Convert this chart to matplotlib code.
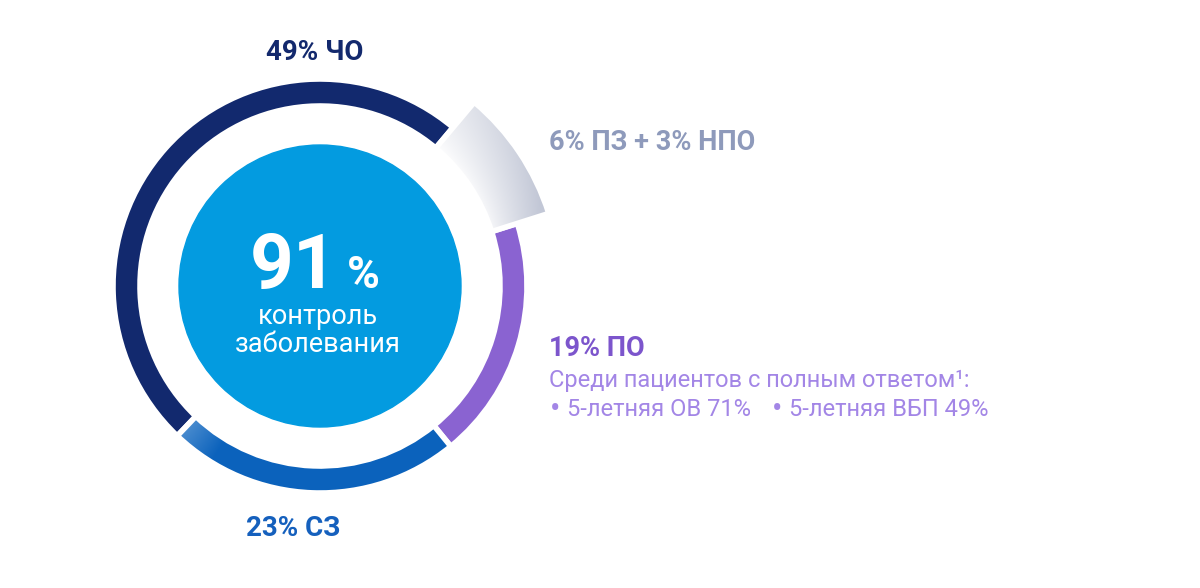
import numpy as np
import matplotlib
matplotlib.use("Agg")
import matplotlib.pyplot as plt
from matplotlib.colors import LinearSegmentedColormap

plt.rcParams['font.family'] = ['Roboto', 'DejaVu Sans']

# ---- data ----
segments = ["ПЗ + НПО", "ПО", "СЗ", "ЧО"]
values = [9, 19, 23, 49]
colors = ["none", "#8a63d1", "#0b62bc", "#12296e"]
center_value = "91"
center_caption = ["контроль", "заболевания"]
label_cho = "49% ЧО"
label_sz = "23% СЗ"
label_pz = "6% ПЗ + 3% НПО"
label_po = "19% ПО"
po_note = "Среди пациентов с полным ответом¹:"
po_bullets = ["5-летняя ОВ 71%", "5-летняя ВБП 49%"]

W, H = 1200, 588
fig = plt.figure(figsize=(12, 5.88), dpi=100)
ax = fig.add_axes([0, 0, 1, 1])

cx, cy = 320, 302
R, ring_w = 207, 27
inner = R - ring_w
gray_outer = 240
start = 50


def reset():
    ax.set_xlim(0, W)
    ax.set_ylim(0, H)
    ax.set_aspect('equal')
    ax.axis('off')


wedges, _ = ax.pie(values, colors=colors, radius=R, center=(cx, cy),
                   startangle=start, counterclock=False, frame=True,
                   wedgeprops=dict(width=ring_w, edgecolor='white', linewidth=4))
reset()

# gray thick segment with gradient
gw, _ = ax.pie([values[0], sum(values[1:])], colors=['none', 'none'],
               radius=gray_outer, center=(cx, cy), startangle=start,
               counterclock=False, frame=True,
               wedgeprops=dict(width=gray_outer - inner, linewidth=0))
reset()

xs = np.linspace(cx - 260, cx + 260, 520)
ys = np.linspace(cy - 260, cy + 260, 520)
X, Y = np.meshgrid(xs, ys)
Rr = np.hypot(X - cx, Y - cy)
Ang = np.degrees(np.arctan2(Y - cy, X - cx))
g_span = 360 * values[0] / 100
t_rad = np.clip((Rr - inner) / (gray_outer - inner), 0, 1)
t_ang = np.clip((start - Ang) / g_span, 0, 1)
t = np.clip(t_rad ** 0.8 * (0.55 + 0.45 * t_ang) + 0.1 * t_ang, 0, 1)
cmap_g = LinearSegmentedColormap.from_list('g', ['#ffffff', '#c2c7d6'])
im = ax.imshow(t, extent=(xs[0], xs[-1], ys[0], ys[-1]), origin='lower',
               cmap=cmap_g, vmin=0, vmax=1, zorder=1)
im.set_clip_path(gw[0])
gw[0].set_edgecolor('white')
gw[0].set_linewidth(4)
gw[0].set_zorder(2)

# blue segment gradient toward its end (next to navy)
b_end = start - 360 * (values[0] + values[1] + values[2]) / 100
t_b = np.clip(((Ang - b_end) % 360) / 12.0, 0, 1)
cmap_b = LinearSegmentedColormap.from_list('b', ['#4a8ccf', '#0b62bc'])
imb = ax.imshow(t_b, extent=(xs[0], xs[-1], ys[0], ys[-1]), origin='lower',
                cmap=cmap_b, vmin=0, vmax=1, zorder=1)
imb.set_clip_path(wedges[2])
wedges[2].set_facecolor('none')
wedges[2].set_zorder(2)
reset()

# center circle
circ = plt.Circle((cx, cy), 141, color='#039be0', zorder=3)
ax.add_patch(circ)

ax.text(294, H - 288, center_value, ha='center', va='baseline', fontsize=55,
        fontweight='bold', color='white', zorder=4)
ax.text(347, H - 288, "%", ha='left', va='baseline', fontsize=32,
        fontweight='bold', color='white', zorder=4)
ax.text(318, H - 317, center_caption[0], ha='center', va='center',
        fontsize=19.5, color='white', zorder=4)
ax.text(318, H - 344, center_caption[1], ha='center', va='center',
        fontsize=19.5, color='white', zorder=4)

ax.text(315, H - 53, label_cho, ha='center', va='center', fontsize=20,
        fontweight='bold', color='#13296d')
ax.text(293, H - 528, label_sz, ha='center', va='center', fontsize=20,
        fontweight='bold', color='#1560bd')
ax.text(549, H - 142, label_pz, ha='left', va='center', fontsize=19.5,
        fontweight='bold', color='#8e9abb')
ax.text(549, H - 349, label_po, ha='left', va='center', fontsize=19.5,
        fontweight='bold', color='#7c55cc')
ax.text(549, H - 381, po_note, ha='left', va='center', fontsize=17,
        color='#a386e6')
bullet_x = [550, 772]
text_x = [567, 789]
for bx, tx, txt in zip(bullet_x, text_x, po_bullets):
    ax.text(bx, H - 410, "•", ha='left', va='center', fontsize=22,
            color='#a386e6')
    ax.text(tx, H - 410, txt, ha='left', va='center', fontsize=17,
            color='#a386e6')

fig.savefig("out.png", dpi=100)
